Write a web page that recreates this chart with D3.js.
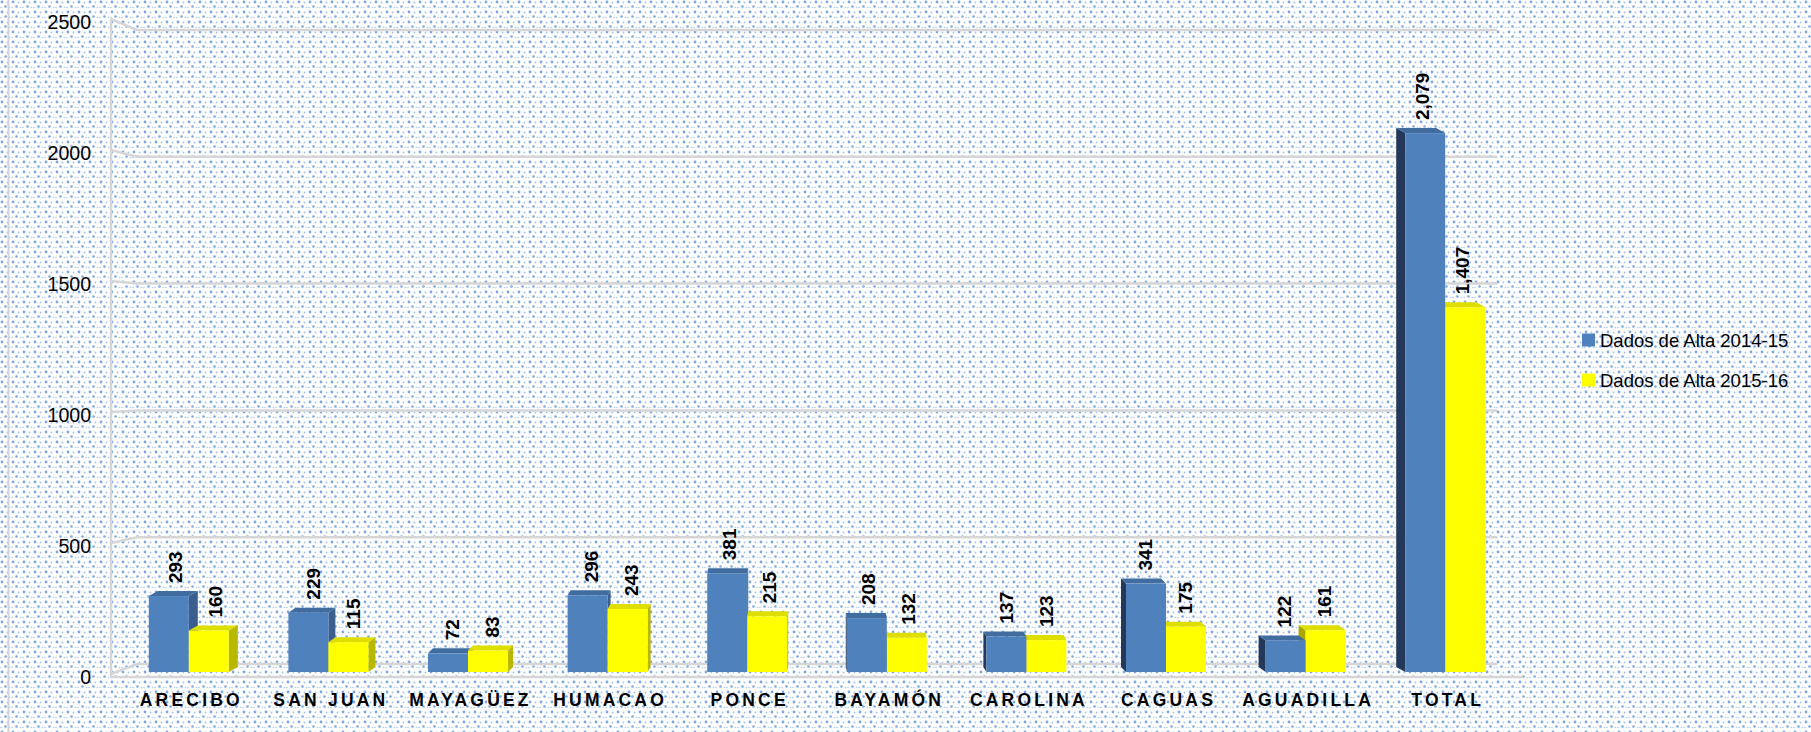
<!DOCTYPE html>
<html>
<head>
<meta charset="utf-8">
<script src="https://cdn.jsdelivr.net/npm/d3@7"></script>
<style>
  html, body { margin: 0; padding: 0; background: #fff; }
  svg { display: block; }
</style>
</head>
<body>
<svg id="chart" width="1811" height="732"></svg>
<script>
const categories = ['ARECIBO', 'SAN JUAN', 'MAYAGÜEZ', 'HUMACAO', 'PONCE', 'BAYAMÓN', 'CAROLINA', 'CAGUAS', 'AGUADILLA', 'TOTAL'];
const alta1415 = [293, 229, 72, 296, 381, 208, 137, 341, 122, 2079];
const alta1516 = [160, 115, 83, 243, 215, 132, 123, 175, 161, 1407];
const seriesNames = ['Dados de Alta 2014-15', 'Dados de Alta 2015-16'];
const yTicks = [0, 500, 1000, 1500, 2000, 2500];

const WIDTH = 1811,
      HEIGHT = 732,
      BAR_W = 40,
      TOP_DY = 5;

const svg = d3.select('#chart');

// dotted background
const defs = svg.append('defs');
const pat = defs.append('pattern')
    .attr('id', 'dots')
    .attr('patternUnits', 'userSpaceOnUse')
    .attr('width', 11)
    .attr('height', 10);
pat.append('rect').attr('width', 11).attr('height', 10).attr('fill', '#fff');
[[2, 2, 1.4, '#7ea7e2'], [7.5, 2.5, 0.9, '#a3c1ec'], [5.5, 6.5, 1.3, '#7ea7e2'], [9.5, 7.5, 0.8, '#aecaf0'], [1, 7.5, 0.8, '#aecaf0']]
  .forEach(d => pat.append('circle').attr('cx', d[0]).attr('cy', d[1]).attr('r', d[2]).attr('fill', d[3]));

svg.append('rect').attr('width', WIDTH).attr('height', HEIGHT).attr('fill', 'url(#dots)');
svg.append('line')
    .attr('x1', 8.5).attr('x2', 8.5).attr('y1', 0).attr('y2', HEIGHT)
    .style('stroke', '#d4d4d4').style('stroke-width', 2);

// scales: front (bars), back wall, side wall
const x = d3.scalePoint().domain(categories).range([119, 1515]).padding(0.5);
const y = d3.scaleLinear().domain([0, 2500]).range([672, 24]);
const yBack = d3.scaleLinear().domain([0, 2500]).range([664, 30]);
const ySide = d3.scaleLinear().domain([0, 2500]).range([674, 19]);

const WALL_X = 111, BACK_X = 137, BACK_END = 1497;

const grid = svg.append('g').attr('class', 'grid')
    .style('stroke', '#d6d6d6').style('stroke-width', 2.5).style('fill', 'none');

grid.selectAll('path.gl')
    .data(yTicks)
    .enter()
    .append('path')
    .attr('class', 'gl')
    .attr('d', d => `M${WALL_X},${ySide(d)} L${BACK_X},${yBack(d)} L${BACK_END},${yBack(d)}`);

grid.append('line')
    .attr('x1', WALL_X).attr('x2', WALL_X)
    .attr('y1', ySide(2500)).attr('y2', ySide(0) + 3);
grid.append('line') // front floor edge
    .attr('x1', WALL_X).attr('x2', 1523)
    .attr('y1', 677).attr('y2', 677);

// y axis
svg.append('g')
    .attr('transform', 'translate(91,3)')
    .call(d3.axisLeft(ySide).tickValues(yTicks).tickSize(0).tickPadding(0).tickFormat(d3.format('d')))
    .call(g => g.select('.domain').remove())
    .selectAll('text')
      .style('font-family', '"Liberation Sans", Arial, sans-serif')
      .style('font-size', '19.5px')
      .style('fill', '#000');

// bars
const colors = [
    { front: '#4f81bd', top: '#416c9f', sideR: '#3a5f8e', sideL: '#24395a' },
    { front: '#ffff00', top: '#dede00', sideR: '#b8b800', sideL: '#a8a800' }
];

function drawBar(g, x0, v, c, dx) {
    const yt = y(v), yb = y(0), x1 = x0 + BAR_W;
    if (dx > 0) {
        g.append('path')
            .attr('d', `M${x1},${yt} L${x1 + dx},${yt - TOP_DY} L${x1 + dx},${yb - TOP_DY} L${x1},${yb} Z`)
            .attr('fill', c.sideR);
    } else if (dx < 0) {
        g.append('path')
            .attr('d', `M${x0},${yt} L${x0 + dx},${yt - TOP_DY} L${x0 + dx},${yb - TOP_DY} L${x0},${yb} Z`)
            .attr('fill', c.sideL);
    }
    g.append('path')
        .attr('d', `M${x0},${yt} L${x1},${yt} L${x1 + dx},${yt - TOP_DY} L${x0 + dx},${yt - TOP_DY} Z`)
        .attr('fill', c.top);
    g.append('rect')
        .attr('x', x0).attr('y', yt)
        .attr('width', BAR_W).attr('height', yb - yt)
        .attr('fill', c.front);
}

const bars = svg.append('g').attr('class', 'bars');
const labels = [];

categories.forEach((cat, i) => {
    const cx = x(cat);
    const dx = (4.5 - i) * 2;
    const g = bars.append('g');
    const items = [
        { x0: cx - BAR_W, v: alta1415[i], c: colors[0] },
        { x0: cx, v: alta1516[i], c: colors[1] }
    ];
    const order = dx > 0 ? items : items.slice().reverse();
    order.forEach(d => drawBar(g, d.x0, d.v, d.c, dx));
    items.forEach(d => labels.push({ x: d.x0 + BAR_W / 2 + dx / 2 + 2, y: y(d.v) - 13, v: d.v }));
});

svg.append('g')
    .selectAll('text')
    .data(labels)
    .enter()
    .append('text')
    .attr('transform', d => `translate(${d.x},${d.y}) rotate(-90)`)
    .attr('dominant-baseline', 'central')
    .style('font-family', '"Liberation Sans", Arial, sans-serif')
    .style('font-weight', 'bold')
    .style('font-size', '19px')
    .style('fill', '#000')
    .text(d => d3.format(',')(d.v));

// x axis
svg.append('g')
    .attr('transform', 'translate(2,694)')
    .call(d3.axisBottom(x).tickSize(0).tickPadding(0))
    .call(g => g.select('.domain').remove())
    .selectAll('text')
      .style('font-family', '"Liberation Sans", Arial, sans-serif')
      .style('font-weight', 'bold')
      .style('font-size', '17.5px')
      .style('letter-spacing', '3.2px')
      .style('fill', '#000');

// legend
const legend = svg.append('g')
    .selectAll('g')
    .data(seriesNames)
    .enter()
    .append('g')
    .attr('transform', (d, i) => `translate(1582,${340 + i * 40})`);

legend.append('rect')
    .attr('x', 0).attr('y', -6.5)
    .attr('width', 13).attr('height', 13)
    .attr('fill', (d, i) => colors[i].front);

legend.append('text')
    .attr('x', 18).attr('y', 0)
    .attr('dominant-baseline', 'central')
    .style('font-family', '"Liberation Sans", Arial, sans-serif')
    .style('font-size', '18.5px')
    .style('fill', '#000')
    .text(d => d);
</script>
</body>
</html>
